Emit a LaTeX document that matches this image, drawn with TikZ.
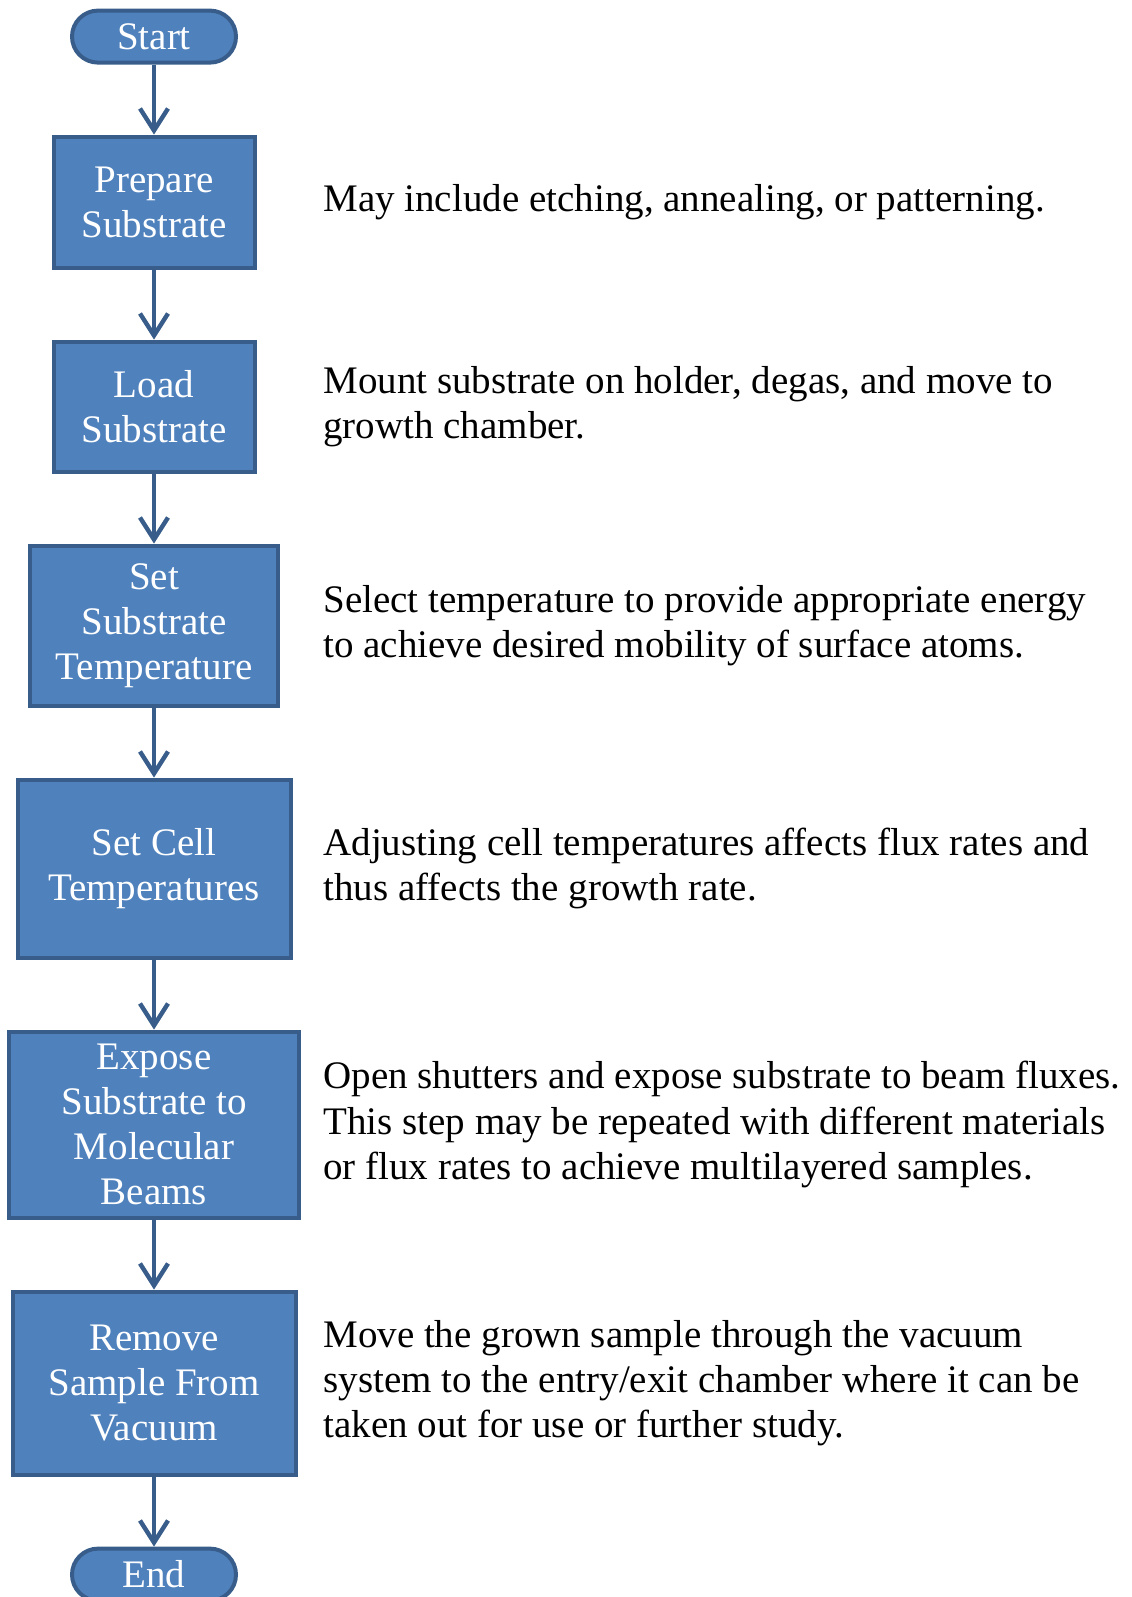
\documentclass[tikz,border=0pt]{standalone}
\usepackage{fontspec}
\setmainfont{Liberation Serif}
\usetikzlibrary{positioning,arrows.meta}
\definecolor{boxfill}{HTML}{4F81BD}
\definecolor{boxline}{HTML}{385D8A}

\begin{document}
\begin{tikzpicture}[node distance=35pt,
	font=\fontsize{19.5pt}{22.6pt}\selectfont,
	step node/.style={rectangle,draw=boxline,fill=boxfill,line width=2pt,
		text=white,align=center,inner sep=2pt},
	term node/.style={step node,rounded corners=13pt,
		minimum width=82pt,minimum height=26pt},
	desc/.style={anchor=west,align=left,inner sep=0pt},
	flow/.style={draw=boxline,line width=2pt,
		-{Straight Barb[length=11pt,width=14pt,line width=2.2pt]}}]
	
	\useasboundingbox (0,0) rectangle (565.5pt,-798.5pt);
	\coordinate (descx) at (161.5pt,0);
	
	\node[term node] (start) at (77pt,-18.3pt) {Start};
	\node[step node,minimum width=100.5pt,minimum height=65.5pt] (prep) [below=of start] {Prepare\\Substrate};
	\node[step node,minimum width=100.5pt,minimum height=65pt] (load) [below=of prep] {Load\\Substrate};
	\node[step node,minimum width=124pt,minimum height=80pt] (subtemp) [below=of load] {Set\\Substrate\\Temperature};
	\node[step node,minimum width=136.5pt,minimum height=89pt] (celltemp) [below=of subtemp] {Set Cell\\Temperatures};
	\node[step node,minimum width=145pt,minimum height=93pt] (expose) [below=of celltemp] {Expose\\Substrate to\\Molecular\\Beams};
	\node[step node,minimum width=141.5pt,minimum height=91.5pt] (remove) [below=of expose] {Remove\\Sample From\\Vacuum};
	\node[term node] (end) [below=of remove] {End};
	
	% notes beside the steps
	\node[desc] (dprep) at (prep -| descx) {May include etching, annealing, or patterning.};
	\node[desc] (dload) at (load -| descx) {Mount substrate on holder, degas, and move to\\growth chamber.};
	\node[desc] (dsubtemp) at (subtemp -| descx) {Select temperature to provide appropriate energy\\to achieve desired mobility of surface atoms.};
	\node[desc] (dcelltemp) at (celltemp -| descx) {Adjusting cell temperatures affects flux rates and\\thus affects the growth rate.};
	\node[desc] (dexpose) at (expose -| descx) {Open shutters and expose substrate to beam fluxes.\\This step may be repeated with different materials\\or flux rates to achieve multilayered samples.};
	\node[desc] (dremove) at (remove -| descx) {Move the grown sample through the vacuum\\system to the entry/exit chamber where it can be\\taken out for use or further study.};
	
	\path[flow]
	(start) edge (prep)
	(prep) edge (load)
	(load) edge (subtemp)
	(subtemp) edge (celltemp)
	(celltemp) edge (expose)
	(expose) edge (remove)
	(remove) edge (end);
\end{tikzpicture}
\end{document}
